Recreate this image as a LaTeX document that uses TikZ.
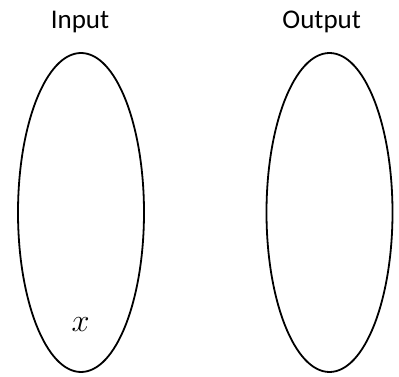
\documentclass[tikz,border=0pt]{standalone}
\usepackage{fontspec}
\setmainfont{Carlito}
\usetikzlibrary{shapes.geometric}
\begin{document}
\begin{tikzpicture}[x=1pt,y=1pt,
  setshape/.style={draw=black,line width=1.8pt,ellipse,minimum width=126pt,minimum height=319pt,inner sep=0pt,outer sep=0pt},
  titletext/.style={font=\fontsize{27}{30}\selectfont,anchor=base},
  elemtext/.style={font=\fontsize{24}{26}\selectfont,anchor=base,inner sep=0pt}]
\useasboundingbox (0,0) rectangle (399,377);
\node[setshape] (in) at (81,164.5) {};
\node[setshape] (out) at (329.5,164.5) {};
\node[titletext] (inlabel) at (80,348.7) {Input};
\node[titletext] (outlabel) at (321.7,348.7) {Output};
\node[elemtext] (xlabel) at (80.5,45) {\scalebox{1.3}{$x$}};
\end{tikzpicture}
\end{document}
